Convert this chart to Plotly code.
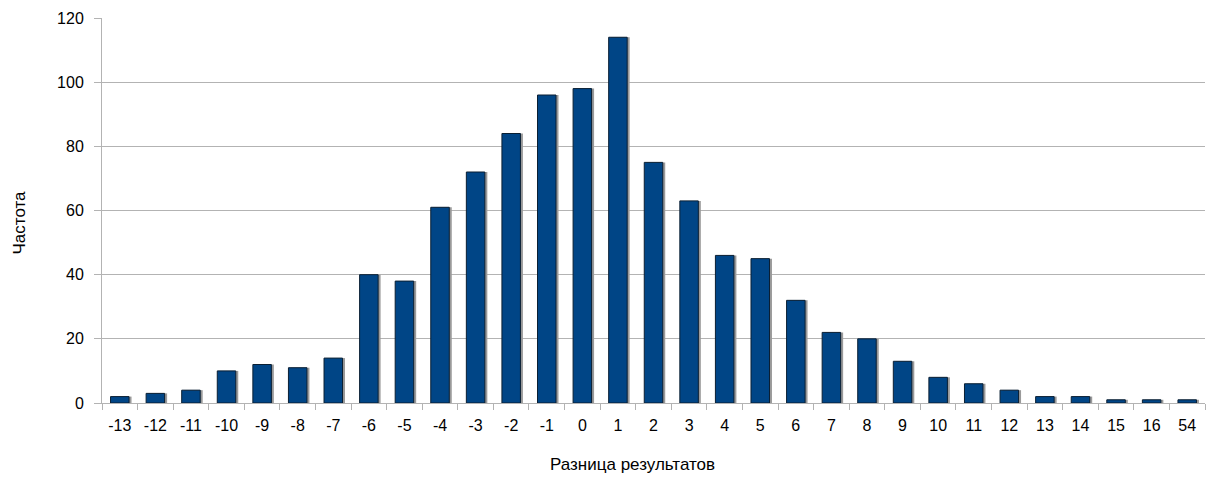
import plotly.graph_objects as go

categories = ["-13", "-12", "-11", "-10", "-9", "-8", "-7", "-6", "-5", "-4", "-3", "-2", "-1",
              "0", "1", "2", "3", "4", "5", "6", "7", "8", "9", "10", "11", "12", "13", "14",
              "15", "16", "54"]
frequency = [2, 3, 4, 10, 12, 11, 14, 40, 38, 61, 72, 84, 96, 98, 114, 75, 63, 46, 45, 32,
             22, 20, 13, 8, 6, 4, 2, 2, 1, 1, 1]

x_title = "Разница результатов"
y_title = "Частота"

W, H = 1208, 479
bar_w = 0.52
fig = go.Figure()
# shadow
fig.add_trace(go.Bar(
    x=categories, y=frequency, width=bar_w, offset=-bar_w / 2 + 0.07,
    marker=dict(color="#9a9a9a", line=dict(width=0)),
    hoverinfo="skip", showlegend=False,
))
fig.add_trace(go.Bar(
    x=categories, y=frequency, width=bar_w, offset=-bar_w / 2,
    marker=dict(color="#004586", line=dict(color="#0a1f33", width=1)),
    showlegend=False,
))

fig.update_layout(
    width=W, height=H,
    barmode="overlay",
    plot_bgcolor="white", paper_bgcolor="white",
    margin=dict(l=102, r=3, t=18, b=76),
    font=dict(family="Liberation Sans, Arial, sans-serif", size=16, color="#000000"),
    xaxis=dict(
        type="category",
        showline=True, linecolor="#b3b3b3", linewidth=1,
        ticks="outside", tickson="boundaries", ticklen=6, tickcolor="#b3b3b3",
        showgrid=False, tickfont=dict(size=16), ticklabelstandoff=8,
    ),
    yaxis=dict(
        range=[0, 120], dtick=20,
        showline=True, linecolor="#b3b3b3", linewidth=1,
        ticks="outside", ticklen=7, tickcolor="#b3b3b3",
        showgrid=True, gridcolor="#b3b3b3", gridwidth=1,
        zeroline=False, tickfont=dict(size=16), ticklabelstandoff=7,
    ),
    annotations=[
        dict(text=x_title, x=632 / W, y=(H - 464) / H, xref="paper", yref="paper",
             xanchor="center", yanchor="middle", showarrow=False, font=dict(size=17)),
        dict(text=y_title, x=18.5 / W, y=(H - 223) / H, xref="paper", yref="paper",
             xanchor="center", yanchor="middle", showarrow=False, textangle=-90,
             font=dict(size=17)),
    ],
)
# convert full-figure fractions to plot-area paper coordinates
pl, pr, pt, pb = 102, 3, 18, 76
pw, ph = W - pl - pr, H - pt - pb
for a in fig.layout.annotations:
    px = a.x * W
    py = H - a.y * H
    a.x = (px - pl) / pw
    a.y = (H - pb - py) / ph

fig.write_html("out.html", post_script="document.body.style.margin='0';",
               config={"displayModeBar": False})
